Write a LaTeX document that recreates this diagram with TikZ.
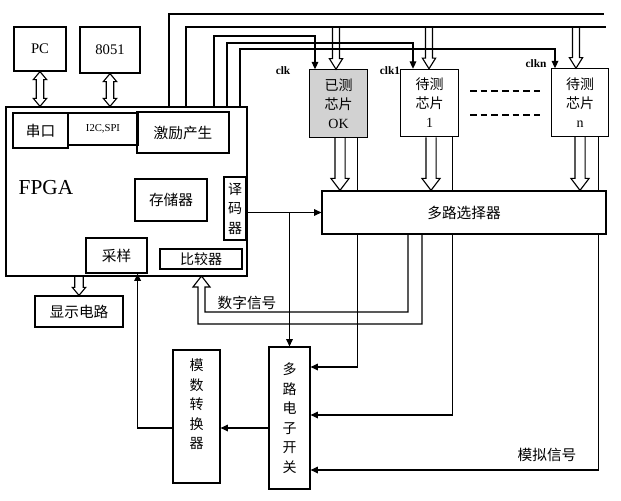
\documentclass[tikz,border=0pt]{standalone}
\usepackage{fontspec}
\setmainfont{Liberation Serif}
\newfontfamily\cjk{Noto Sans CJK SC}
\usetikzlibrary{arrows.meta, calc}

\tikzset{
  box/.style={draw, line width=0.9pt, inner sep=0pt},
  cn/.style={font=\cjk\fontsize{11}{13}\selectfont},
  vcn/.style={font=\cjk\fontsize{10.5}{14.6}\selectfont, align=center},
  en/.style={font=\fontsize{11}{13}\selectfont},
  clklbl/.style={font=\bfseries\fontsize{8.5}{10}\selectfont},
  chip/.style={box, minimum width=43pt, minimum height=50.5pt, align=center,
    font=\cjk\fontsize{10.5}{14.3}\selectfont},
  wire/.style={line width=0.85pt},
  arr/.style={wire, -{Triangle[length=5.5pt,width=5pt]}},
  % hollow arrow: shaft half width, head half width, head length
  hollow/.style n args={3}{wire, to path={
    ($(\tikztostart)!#1!90:(\tikztotarget)$)
    -- ($(\tikztotarget)!#3!(\tikztostart)!#1!-90:(\tikztostart)$)
    -- ($(\tikztotarget)!#3!(\tikztostart)!#2!-90:(\tikztostart)$)
    -- (\tikztotarget)
    -- ($(\tikztotarget)!#3!(\tikztostart)!#2!90:(\tikztostart)$)
    -- ($(\tikztotarget)!#3!(\tikztostart)!#1!90:(\tikztostart)$)
    -- ($(\tikztostart)!#1!-90:(\tikztotarget)$)}},
  hollowboth/.style n args={3}{wire, to path={
    (\tikztostart)
    -- ($(\tikztostart)!#3!(\tikztotarget)!#2!90:(\tikztotarget)$)
    -- ($(\tikztostart)!#3!(\tikztotarget)!#1!90:(\tikztotarget)$)
    -- ($(\tikztotarget)!#3!(\tikztostart)!#1!-90:(\tikztostart)$)
    -- ($(\tikztotarget)!#3!(\tikztostart)!#2!-90:(\tikztostart)$)
    -- (\tikztotarget)
    -- ($(\tikztotarget)!#3!(\tikztostart)!#2!90:(\tikztostart)$)
    -- ($(\tikztotarget)!#3!(\tikztostart)!#1!90:(\tikztostart)$)
    -- ($(\tikztostart)!#3!(\tikztotarget)!#1!-90:(\tikztotarget)$)
    -- ($(\tikztostart)!#3!(\tikztotarget)!#2!-90:(\tikztotarget)$)
    -- cycle}},
}

\begin{document}
\begin{tikzpicture}[x=0.75pt, y=-0.75pt]
\useasboundingbox (0,0) rectangle (621,500);

% Hosts
\node[box, en, minimum width=39pt, minimum height=33pt] (pc) at (40,49) {PC};
\node[box, en, minimum width=45pt, minimum height=34.5pt] (mcu) at (110,50) {8051};

% FPGA with its blocks
\node[box, minimum width=180.75pt, minimum height=126.75pt] (fpga) at (126.5,191.5) {};
\node[font=\fontsize{16}{18}\selectfont] (fpgalbl) at (46,188) {FPGA};
\node[box, cn, minimum width=41.25pt, minimum height=26.25pt] (uart) at (40.5,130.5) {串口};
\node[box, font=\fontsize{8}{9}\selectfont, minimum width=52.5pt, minimum height=24pt] (i2c) at (103,129) {I2C,SPI};
\node[box, cn, minimum width=69pt, minimum height=30.75pt] (stim) at (183,132.5) {激励产生};
\node[box, cn, minimum width=54pt, minimum height=31.5pt] (mem) at (171,200) {存储器};
\node[box, vcn, minimum width=16.5pt, minimum height=47.25pt] (dec) at (235,208.5) {译\\码\\器};
\node[box, cn, minimum width=45.75pt, minimum height=26.25pt] (samp) at (116.5,255.5) {采样};
\node[box, cn, font=\cjk\fontsize{10.5}{12}\selectfont, minimum width=61.5pt, minimum height=15pt] (cmp) at (201,259) {比较器};
\node[box, cn, minimum width=66pt, minimum height=23.25pt] (disp) at (79,311.5) {显示电路};

% Chips
\node[chip, fill=gray!35] (ok) at (338.5,103.5) {已测\\芯片\\{\rmfamily OK}};
\node[chip] (chip1) at (429.5,103) {待测\\芯片\\{\rmfamily 1}};
\node[chip] (chipn) at (580,102.5) {待测\\芯片\\{\rmfamily n}};
\node[clklbl] (clk0) at (283,71) {clk};
\node[clklbl] (clk1) at (390,71) {clk1};
\node[clklbl] (clkn) at (536,64) {clkn};
\draw[wire, dash pattern=on 5pt off 3pt] (470,91) -- (540,91);
\draw[wire, dash pattern=on 5pt off 3pt] (470,115) -- (540,115);

% Switch and A/D
\node[box, vcn, minimum width=30.75pt, minimum height=106.5pt] (sw) at (289.5,418) {多\\路\\电\\子\\开\\关};
\node[box, minimum width=35.25pt, minimum height=99.75pt] (adc) at (196.5,416.5) {};
\node[vcn] (adctxt) at (196.5,404.5) {模\\数\\转\\换\\器};

% Analog signals (pass under the selector)
\draw[arr] ($(ok.south east)+(-10,0)$) |- (sw.east |- 0,367);
\draw[arr] ($(chip1.south east)+(-6,0)$) |- (sw.east |- 0,415);
\draw[arr] ($(chipn.south east)+(-11,0)$) |- (sw.east |- 0,470);
\node[cn] (analog) at (547,455) {模拟信号};

\node[box, cn, fill=white, minimum width=213pt, minimum height=32.25pt] (mux) at (464,212.5) {多路选择器};

% Lines from FPGA top
\coordinate (bus) at (0,27);
\draw[wire] (fpga.north -| 169,0) |- (604,14);
\draw[wire] (fpga.north -| 186,0) |- (606,27);
\draw[arr] (fpga.north -| 214,0) |- (315,36) -- (315,0 |- ok.north);
\draw[arr] (fpga.north -| 227,0) |- (413,43) -- (413,0 |- chip1.north);
\draw[arr] (fpga.north -| 240,0) |- (555,49) -- (555,0 |- chipn.north);

% Hollow data arrows
\draw[hollowboth={2.8pt}{5pt}{6pt}] (pc.south) to (pc.south |- fpga.north);
\draw[hollowboth={2.8pt}{5pt}{6pt}] (mcu.south) to (mcu.south |- fpga.north);
\draw[hollow={3.2pt}{5pt}{6pt}] (fpga.south -| disp.north) to (disp.north);
\draw[hollow={2.6pt}{5pt}{8pt}] (336,0 |- bus) to (336,0 |- ok.north);
\draw[hollow={2.6pt}{5pt}{8pt}] (429,0 |- bus) to (429,0 |- chip1.north);
\draw[hollow={2.6pt}{5pt}{8pt}] (576,0 |- bus) to (576,0 |- chipn.north);
\draw[hollow={3.8pt}{6.8pt}{9pt}] (340,0 |- ok.south) to (340,0 |- mux.north);
\draw[hollow={3.8pt}{6.8pt}{9pt}] (431,0 |- chip1.south) to (431,0 |- mux.north);
\draw[hollow={3.8pt}{6.8pt}{9pt}] (580,0 |- chipn.south) to (580,0 |- mux.north);

% Digital signal back to comparator
\draw[wire] (408,0 |- mux.south) |- (205,312) -- (205,287) -- (210,287)
  -- (201.5,276) -- (193,287) -- (198,287) -- (198,324) -| (422,0 |- mux.south);
\node[cn] (digital) at (247,303) {数字信号};

% Control and sampling path
\draw[arr] (dec.east |- mux.west) -- (mux.west);
\draw[arr] (sw.north |- mux.west) -- (sw.north);
\draw[arr] (sw.west |- 0,428) -- (adc.east |- 0,428);
\draw[arr] (adc.west |- 0,428) -| ($(samp.south east)+(-10,0)$);

\end{tikzpicture}
\end{document}
